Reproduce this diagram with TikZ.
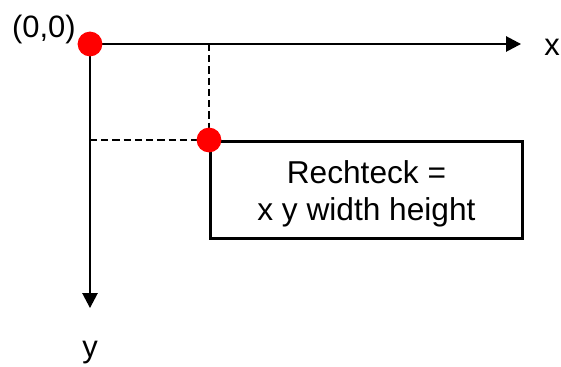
\documentclass[tikz,border=0pt]{standalone}
\usepackage{fontspec}
\setmainfont{Liberation Sans}
\usetikzlibrary{arrows.meta, positioning}

\begin{document}
\begin{tikzpicture}[x=0.025cm, y=-0.025cm,
  punkt/.style={circle, fill=red, inner sep=0pt, minimum size=0.62cm},
  achse/.style={line width=1.1pt, -{Triangle[length=0.37cm, width=0.38cm]}},
  hilfslinie/.style={dash pattern=on 5pt off 3pt, line width=1pt},
  beschriftung/.style={font=\fontsize{22}{26}\selectfont, inner sep=0pt}]
\useasboundingbox (0,0) rectangle (561,367);

% --- Achsen ---
\coordinate (ursprung) at (90,44);
\coordinate (xende) at (521,44);
\coordinate (yende) at (90,308);
\draw[achse] (ursprung) -- (xende);
\draw[achse] (ursprung) -- (yende);
\node[beschriftung] (xlabel) at (552,47) {x};
\node[beschriftung] (ylabel) at (90,353) {y};

% --- Rechteck ---
\node[draw, line width=2pt, minimum width=7.8cm, minimum height=2.42cm,
  anchor=north west] (rechteck) at (209,140) {};
\node[align=center, font=\fontsize{22.5}{26.3}\selectfont, inner sep=0pt]
  (rechtecktext) at ([yshift=-0.09cm]rechteck.center) {Rechteck =\\x y width height};

% --- Hilfslinien ---
\coordinate (xmarke) at (209,44);
\coordinate (ymarke) at (90,140);
\draw[hilfslinie] (xmarke) -- (rechteck.north west);
\draw[hilfslinie] (ymarke) -- (rechteck.north west);

% --- Punkte ---
\node[punkt] (p0) at (ursprung) {};
\node[punkt] (p1) at (rechteck.north west) {};
\node[beschriftung, anchor=east] (nulllabel) at (76,29) {(0,0)};
\end{tikzpicture}
\end{document}
